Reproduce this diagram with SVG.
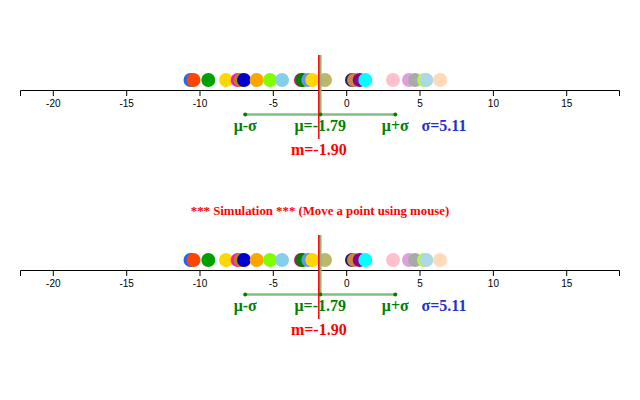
<svg xmlns="http://www.w3.org/2000/svg" width="640" height="400" viewBox="0 0 640 400">
<style>
.axis{fill:none;stroke:#000;stroke-width:1}
.tick{stroke:#000;stroke-width:1}
.tl{font-family:"Liberation Sans",Arial,sans-serif;font-size:10px;fill:#000;text-anchor:middle}
.lbl{font-family:"Liberation Serif","Times New Roman",serif;font-size:16px;font-weight:bold;text-anchor:middle}
.g{fill:#008000}
.b{fill:#1f33cc}
.r{fill:#ff0000}
.med{stroke:#ff0000;stroke-width:1.5}
.mean{stroke:#7fbf7f;stroke-width:2.5}
.sig{stroke:#7fbf7f;stroke-width:2.5}
.dot{fill:#008000}
.sim{font-family:"Liberation Serif","Times New Roman",serif;font-size:12.8px;font-weight:bold;fill:#ff0000;text-anchor:middle}
</style>
<defs>
<g id="pts">
<circle cx="190.5" cy="0" r="7" fill="#2266ee"/>
<circle cx="193.5" cy="0" r="7" fill="#ff4500"/>
<circle cx="208.3" cy="0" r="7" fill="#00a000"/>
<circle cx="226" cy="0" r="7" fill="#ffd700"/>
<circle cx="237.7" cy="0" r="7" fill="#ff10d0"/>
<circle cx="240.5" cy="0" r="7" fill="#b8860b"/>
<circle cx="244" cy="0" r="7" fill="#0000cd"/>
<circle cx="256.7" cy="0" r="7" fill="#ffa500"/>
<circle cx="270" cy="0" r="7" fill="#7fff00"/>
<circle cx="282" cy="0" r="7" fill="#87ceeb"/>
<circle cx="301" cy="0" r="7" fill="#dc0a6e"/>
<circle cx="302.5" cy="0" r="7" fill="#008000"/>
<circle cx="308.3" cy="0" r="7" fill="#6495ed"/>
<circle cx="312.3" cy="0" r="7" fill="#ffd700"/>
<circle cx="325" cy="0" r="7" fill="#bdb76b"/>
<circle cx="352" cy="0" r="7" fill="#191970"/>
<circle cx="354" cy="0" r="7" fill="#cd853f"/>
<circle cx="359.7" cy="0" r="7" fill="#8b008b"/>
<circle cx="365.3" cy="0" r="7" fill="#00ffff"/>
<circle cx="393" cy="0" r="7" fill="#ffc0cb"/>
<circle cx="409" cy="0" r="7" fill="#dda0dd"/>
<circle cx="415" cy="0" r="7" fill="#a9a9a9"/>
<circle cx="424" cy="0" r="7" fill="#adff2f"/>
<circle cx="426.3" cy="0" r="7" fill="#add8e6"/>
<circle cx="440" cy="0" r="7" fill="#ffdab9"/>
</g>
</defs>

<g id="panel-top">
<g id="points-top" transform="translate(0,80)"><use href="#pts"/></g>
<g id="axis-top">
<path class="axis" d="M20.5,96V90.5H619.5V96"/>
<line class="tick" x1="53.3" y1="90" x2="53.3" y2="96"/><text class="tl" x="53.3" y="107">-20</text>
<line class="tick" x1="126.7" y1="90" x2="126.7" y2="96"/><text class="tl" x="126.7" y="107">-15</text>
<line class="tick" x1="200" y1="90" x2="200" y2="96"/><text class="tl" x="200" y="107">-10</text>
<line class="tick" x1="273.3" y1="90" x2="273.3" y2="96"/><text class="tl" x="273.3" y="107">-5</text>
<line class="tick" x1="346.7" y1="90" x2="346.7" y2="96"/><text class="tl" x="346.7" y="107">0</text>
<line class="tick" x1="420" y1="90" x2="420" y2="96"/><text class="tl" x="420" y="107">5</text>
<line class="tick" x1="493.4" y1="90" x2="493.4" y2="96"/><text class="tl" x="493.4" y="107">10</text>
<line class="tick" x1="566.7" y1="90" x2="566.7" y2="96"/><text class="tl" x="566.7" y="107">15</text>
</g>
<g id="stats-top">
<line class="mean" x1="320.3" y1="55" x2="320.3" y2="114.5"/>
<line class="sig" x1="245.2" y1="114.5" x2="395.3" y2="114.5"/>
<circle class="dot" cx="245.2" cy="114.5" r="2"/>
<circle class="dot" cx="320.3" cy="114.5" r="2"/>
<circle class="dot" cx="395.3" cy="114.5" r="2"/>
<line class="med" x1="318.8" y1="55" x2="318.8" y2="139"/>
<text class="lbl g" x="245.2" y="131">μ-σ</text>
<text class="lbl g" x="320.3" y="131">μ=-1.79</text>
<text class="lbl g" x="395.3" y="131">μ+σ</text>
<text class="lbl b" x="444" y="131">σ=5.11</text>
<text class="lbl r" x="318.8" y="155">m=-1.90</text>
</g>
</g>

<text id="sim-title" class="sim" x="320" y="215">*** Simulation *** (Move a point using mouse)</text>

<g id="panel-bottom">
<g id="points-bottom" transform="translate(0,260)"><use href="#pts"/></g>
<g id="axis-bottom">
<path class="axis" d="M20.5,276V270.5H619.5V276"/>
<line class="tick" x1="53.3" y1="270" x2="53.3" y2="276"/><text class="tl" x="53.3" y="287">-20</text>
<line class="tick" x1="126.7" y1="270" x2="126.7" y2="276"/><text class="tl" x="126.7" y="287">-15</text>
<line class="tick" x1="200" y1="270" x2="200" y2="276"/><text class="tl" x="200" y="287">-10</text>
<line class="tick" x1="273.3" y1="270" x2="273.3" y2="276"/><text class="tl" x="273.3" y="287">-5</text>
<line class="tick" x1="346.7" y1="270" x2="346.7" y2="276"/><text class="tl" x="346.7" y="287">0</text>
<line class="tick" x1="420" y1="270" x2="420" y2="276"/><text class="tl" x="420" y="287">5</text>
<line class="tick" x1="493.4" y1="270" x2="493.4" y2="276"/><text class="tl" x="493.4" y="287">10</text>
<line class="tick" x1="566.7" y1="270" x2="566.7" y2="276"/><text class="tl" x="566.7" y="287">15</text>
</g>
<g id="stats-bottom">
<line class="mean" x1="320.3" y1="235" x2="320.3" y2="294.5"/>
<line class="sig" x1="245.2" y1="294.5" x2="395.3" y2="294.5"/>
<circle class="dot" cx="245.2" cy="294.5" r="2"/>
<circle class="dot" cx="320.3" cy="294.5" r="2"/>
<circle class="dot" cx="395.3" cy="294.5" r="2"/>
<line class="med" x1="318.8" y1="235" x2="318.8" y2="319"/>
<text class="lbl g" x="245.2" y="311">μ-σ</text>
<text class="lbl g" x="320.3" y="311">μ=-1.79</text>
<text class="lbl g" x="395.3" y="311">μ+σ</text>
<text class="lbl b" x="444" y="311">σ=5.11</text>
<text class="lbl r" x="318.8" y="335">m=-1.90</text>
</g>
</g>
</svg>
